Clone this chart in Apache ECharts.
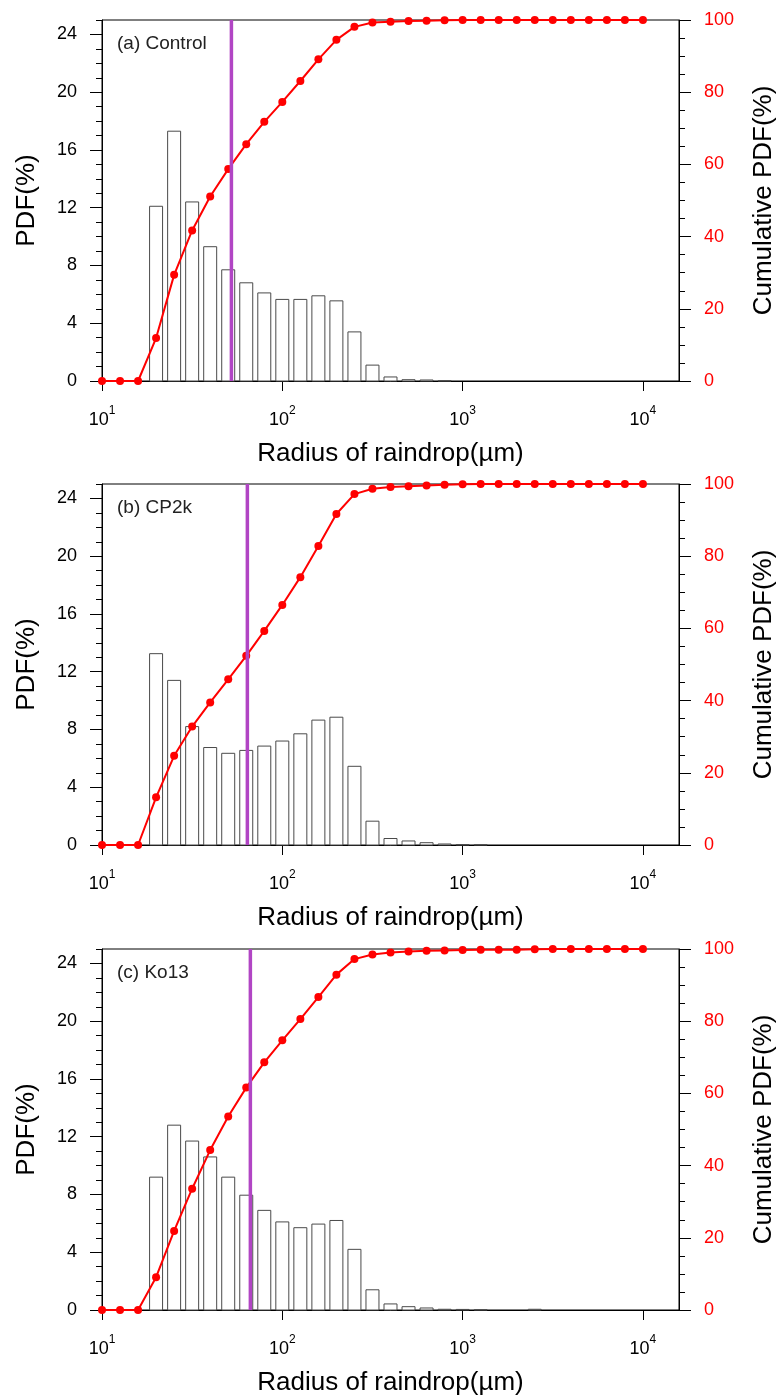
<!DOCTYPE html>
<html>
<head>
<meta charset="utf-8">
<script src="https://cdn.jsdelivr.net/npm/echarts@6/dist/echarts.min.js"></script>
<style>
  html, body { margin: 0; padding: 0; background: #fff; overflow: hidden; }
  #chart { width: 779px; height: 1400px; }
</style>
</head>
<body>
<div id="chart"></div>
<script>
// ---- data ----
const radius = [10, 12.59, 15.85, 19.95, 25.12, 31.62, 39.81, 50.12, 63.10, 79.43,
  100, 125.9, 158.5, 199.5, 251.2, 316.2, 398.1, 501.2, 631.0, 794.3,
  1000, 1259, 1585, 1995, 2512, 3162, 3981, 5012, 6310, 7943, 10000];

const pdfControl = [0, 0, 0, 12.1, 17.3, 12.4, 9.3, 7.7, 6.8, 6.1, 5.65, 5.65, 5.9, 5.55, 3.4, 1.1,
  0.28, 0.09, 0.07, 0.02, 0, 0, 0, 0, 0, 0, 0, 0, 0, 0, 0];
const cumControl = [0, 0, 0, 11.9, 29.4, 41.7, 51.1, 58.7, 65.6, 71.8, 77.3, 83.1, 89.1, 94.5, 98.1, 99.3,
  99.5, 99.7, 99.8, 99.9, 100, 100, 100, 100, 100, 100, 100, 100, 100, 100, 100];

const pdfCP2k = [0, 0, 0, 13.25, 11.4, 8.2, 6.75, 6.35, 6.55, 6.85, 7.2, 7.7, 8.65, 8.85, 5.45, 1.65,
  0.45, 0.28, 0.16, 0.07, 0.03, 0.02, 0, 0, 0, 0, 0, 0, 0, 0, 0];
const cumCP2k = [0, 0, 0, 13.2, 24.7, 32.8, 39.5, 45.9, 52.4, 59.3, 66.5, 74.2, 82.8, 91.7, 97.2, 98.7,
  99.2, 99.4, 99.6, 99.8, 99.9, 100, 100, 100, 100, 100, 100, 100, 100, 100, 100];

const pdfKo13 = [0, 0, 0, 9.2, 12.8, 11.7, 10.6, 9.2, 7.95, 6.9, 6.1, 5.7, 5.95, 6.2, 4.2, 1.4,
  0.42, 0.23, 0.14, 0.05, 0.04, 0.02, 0, 0, 0.05, 0, 0, 0, 0, 0, 0];
const cumKo13 = [0, 0, 0, 9.1, 21.9, 33.6, 44.3, 53.6, 61.6, 68.6, 74.7, 80.6, 86.7, 92.9, 97.2, 98.5,
  99.0, 99.3, 99.5, 99.6, 99.7, 99.8, 99.8, 99.8, 99.9, 100, 100, 100, 100, 100, 100];

const meanRadius = [52.2, 64.0, 66.5];
const panelLabels = ['(a) Control', '(b) CP2k', '(c) Ko13'];

const xTickValues = [10, 100, 1000, 10000];
const pdfTickValues = [0, 4, 8, 12, 16, 20, 24];

// ---- layout / style ----
const FONT = '"Liberation Sans", Arial, Helvetica, sans-serif';
const gridTops = [20, 484, 949];
const gridH = 361, gridLeft = 102, gridRight = 100;
const halfBinLog = 0.036;

const pdfs = [pdfControl, pdfCP2k, pdfKo13];
const cums = [cumControl, cumCP2k, cumKo13];

const grids = [], xAxes = [], yAxes = [], series = [], graphics = [];

for (let i = 0; i < 3; i++) {
  grids.push({ left: gridLeft, right: gridRight, top: gridTops[i], height: gridH,
    containLabel: false, outerBoundsMode: 'none',
    show: true, borderColor: '#000', borderWidth: 1, backgroundColor: 'transparent' });

  xAxes.push({
    type: 'log', logBase: 10, gridIndex: i, min: 10, max: 15848.93,
    axisLine: { show: true, onZero: false, lineStyle: { color: '#000', width: 1 } },
    axisTick: { show: true, length: 10, customValues: xTickValues, lineStyle: { color: '#000' } },
    axisLabel: {
      customValues: xTickValues, margin: 24, color: '#000', fontFamily: FONT,
      formatter: v => '{b|10}{s|' + Math.round(Math.log10(v)) + '}',
      rich: {
        b: { fontSize: 18, fontFamily: FONT, color: '#000', lineHeight: 24, verticalAlign: 'bottom' },
        s: { fontSize: 12, fontFamily: FONT, color: '#000', lineHeight: 24, verticalAlign: 'top' }
      }
    },
    splitLine: { show: false },
    name: 'Radius of raindrop(µm)', nameLocation: 'middle', nameGap: 60,
    nameTextStyle: { fontSize: 26, fontFamily: FONT, color: '#000' }
  });

  // left axis: minor ticks every 1 + labels
  yAxes.push({
    type: 'value', gridIndex: i, position: 'left', min: 0, max: 25, interval: 1,
    axisLine: { show: true, lineStyle: { color: '#000', width: 1 } },
    axisTick: { show: true, length: 6, lineStyle: { color: '#000' } },
    axisLabel: { customValues: pdfTickValues, margin: 25, fontSize: 18, color: '#000', fontFamily: FONT },
    splitLine: { show: false },
    name: 'PDF(%)', nameLocation: 'middle', nameRotate: 90, nameGap: 62,
    nameTextStyle: { fontSize: 26, fontFamily: FONT, color: '#000' }
  });
  // left axis: major ticks
  yAxes.push({
    type: 'value', gridIndex: i, position: 'left', min: 0, max: 25, interval: 1,
    axisLine: { show: false },
    axisTick: { show: true, length: 12, customValues: pdfTickValues, lineStyle: { color: '#000' } },
    axisLabel: { show: false },
    splitLine: { show: false }
  });
  // right axis: cumulative
  yAxes.push({
    type: 'value', gridIndex: i, position: 'right', min: 0, max: 100, interval: 20,
    axisLine: { show: true, lineStyle: { color: '#000', width: 1 } },
    axisTick: { show: true, length: 12, lineStyle: { color: '#000' } },
    minorTick: { show: true, splitNumber: 4, length: 6, lineStyle: { color: '#000' } },
    axisLabel: { margin: 25, fontSize: 18, color: '#ff0000', fontFamily: FONT },
    splitLine: { show: false },
    name: 'Cumulative PDF(%)', nameLocation: 'middle', nameRotate: 90, nameGap: 72,
    nameTextStyle: { fontSize: 26, fontFamily: FONT, color: '#000' }
  });

  const pdf = pdfs[i], cum = cums[i];
  series.push({
    type: 'custom', xAxisIndex: i, yAxisIndex: 3 * i, z: 2,
    data: radius.map((r, k) => [r, pdf[k]]),
    renderItem: (params, api) => {
      const x = api.value(0), y = api.value(1);
      if (!(y > 0)) return null;
      const f = Math.pow(10, halfBinLog);
      const p0 = api.coord([x / f, 0]);
      const p1 = api.coord([x * f, y]);
      return {
        type: 'rect',
        shape: { x: p0[0], y: p1[1], width: p1[0] - p0[0], height: p0[1] - p1[1] },
        style: { fill: '#fff', stroke: '#4a4a4a', lineWidth: 1 }
      };
    }
  });
  series.push({
    type: 'line', xAxisIndex: i, yAxisIndex: 3 * i + 2, z: 3,
    data: radius.map((r, k) => [r, cum[k]]),
    symbol: 'circle', symbolSize: 8,
    itemStyle: { color: '#ff0000' },
    lineStyle: { color: '#ff0000', width: 2 }
  });
  series.push({
    type: 'line', xAxisIndex: i, yAxisIndex: 3 * i, z: 4,
    data: [[meanRadius[i], 0], [meanRadius[i], 25]],
    symbol: 'none',
    lineStyle: { color: '#b145c4', width: 3.5 }
  });

  graphics.push({
    type: 'text', left: 117, top: gridTops[i] + 14,
    style: { text: panelLabels[i], font: '19px ' + FONT, fill: '#222' }
  });
}

const chart = echarts.init(document.getElementById('chart'), null, { renderer: 'canvas' });
chart.setOption({
  animation: false,
  backgroundColor: '#fff',
  grid: grids,
  xAxis: xAxes,
  yAxis: yAxes,
  series: series,
  graphic: graphics
});
</script>
</body>
</html>
